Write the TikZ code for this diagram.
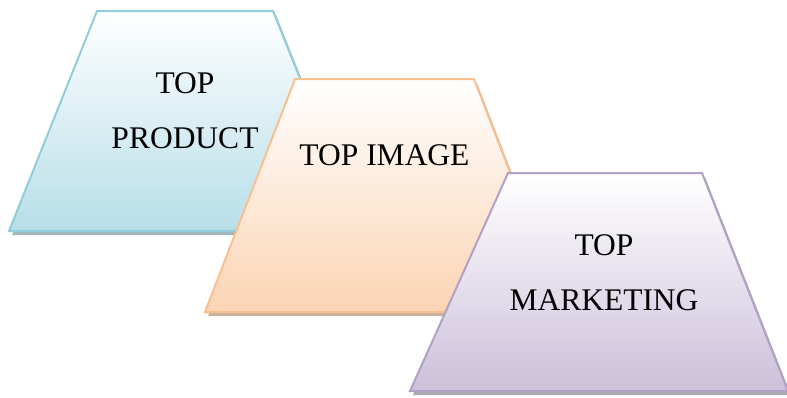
\documentclass[tikz,border=0pt]{standalone}
\usepackage{fontspec}
\setmainfont{Liberation Serif}

\definecolor{prodline}{RGB}{146,205,220}
\definecolor{prodfill}{RGB}{183,222,232}
\definecolor{imgline}{RGB}{250,191,143}
\definecolor{imgfill}{RGB}{251,212,180}
\definecolor{mktline}{RGB}{178,161,199}
\definecolor{mktfill}{RGB}{204,192,218}

\begin{document}
\begin{tikzpicture}[x=1pt,y=-1pt,
    panel/.style={line width=2pt,line join=miter,top color=white},
    shade under/.style={fill=#1!60!black,opacity=0.55,xshift=3pt,yshift=-4pt},
    caption/.style={font=\fontsize{31.5}{55}\selectfont,align=center,anchor=base}]

  \useasboundingbox (0,0) rectangle (787,397);

  % TOP PRODUCT
  \fill[shade under=prodline] (97,11) -- (273,11) -- (361,231) -- (9,231) -- cycle;
  \shadedraw[panel,bottom color=prodfill,draw=prodline]
    (97,11) -- (273,11) -- (361,231) -- (9,231) -- cycle;
  \node[caption] (prod) at (185,148) {TOP\\PRODUCT};

  % TOP IMAGE
  \fill[shade under=imgline] (295,79) -- (474,79) -- (564,312) -- (205,312) -- cycle;
  \shadedraw[panel,bottom color=imgfill,draw=imgline]
    (295,79) -- (474,79) -- (564,312) -- (205,312) -- cycle;
  \node[caption] (img) at (384.5,165) {TOP IMAGE};

  % TOP MARKETING
  \fill[shade under=mktline] (508,173) -- (702,173) -- (788,391) -- (410,391) -- cycle;
  \shadedraw[panel,bottom color=mktfill,draw=mktline]
    (508,173) -- (702,173) -- (788,391) -- (410,391) -- cycle;
  \node[caption] (mkt) at (604,310) {TOP\\MARKETING};
\end{tikzpicture}
\end{document}
